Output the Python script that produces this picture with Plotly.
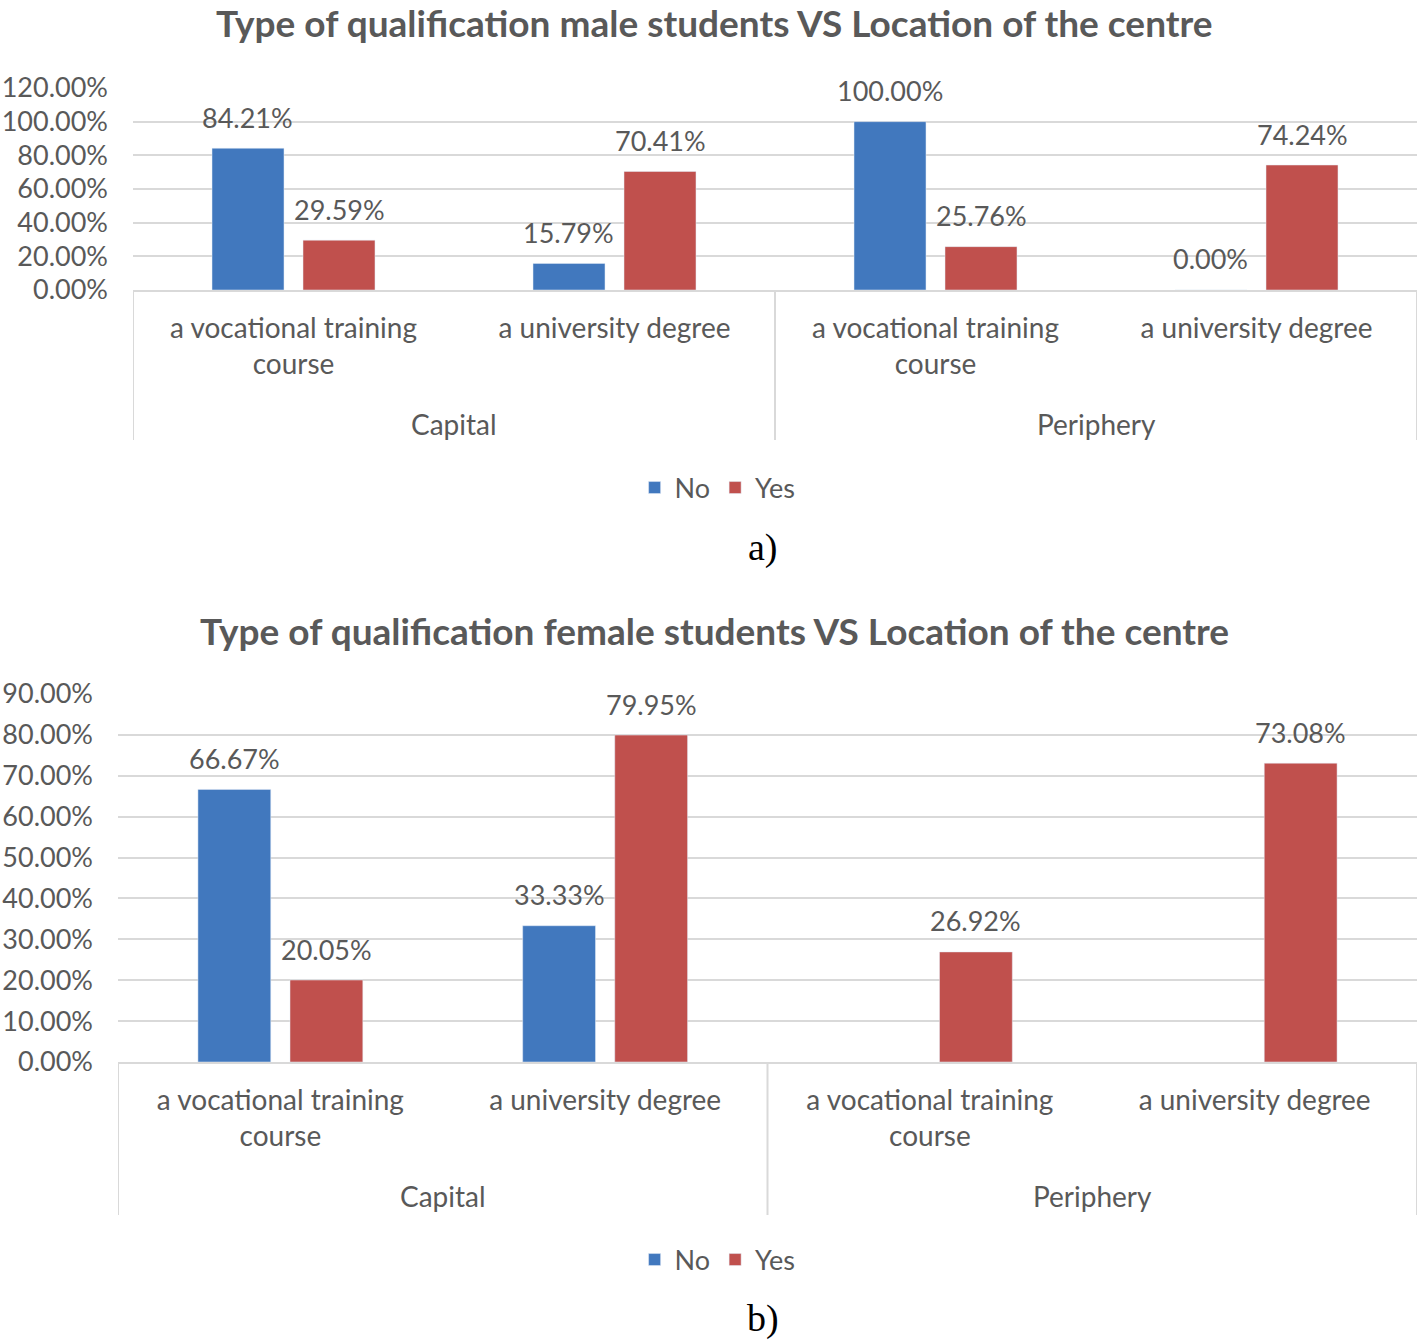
import plotly.graph_objects as go

# ---------------- data ----------------
qualifications = ["a vocational training<br>course", "a university degree"]
locations = ["Capital", "Periphery"]
series_names = ["No", "Yes"]

male_no = [0.8421, 0.1579, 1.0000, 0.0000]
male_yes = [0.2959, 0.7041, 0.2576, 0.7424]
female_no = [0.6667, 0.3333, None, None]
female_yes = [0.2005, 0.7995, 0.2692, 0.7308]

title_a = "Type of qualification male students VS Location of the centre"
title_b = "Type of qualification female students VS Location of the centre"

male_ticks = [0, 0.2, 0.4, 0.6, 0.8, 1.0, 1.2]
female_ticks = [0, 0.1, 0.2, 0.3, 0.4, 0.5, 0.6, 0.7, 0.8, 0.9]

# ---------------- style ----------------
W, H = 1421, 1342
BLUE = "#4178BE"
RED = "#C0504D"
GREY = "#595959"
GRID = "#D9D9D9"
FONT = "Lato"
NUM_SIZE = 27
CAT_SIZE = 28
TITLE_SIZE = 37


def py(pix):
    return 1 - pix / H


def px(pix):
    return pix / W


n_cat = len(qualifications) * len(locations)
xs = list(range(n_cat))
xlabels = [q for _ in locations for q in qualifications]

fig = go.Figure()

panels = [
    dict(no=male_no, yes=male_yes, xa="x", ya="y", legend="legend"),
    dict(no=female_no, yes=female_yes, xa="x2", ya="y2", legend="legend2"),
]

annotations = []
shapes = []

for p in panels:
    for name, vals, col, shift in [(series_names[0], p["no"], BLUE, -46),
                                   (series_names[1], p["yes"], RED, 46)]:
        fig.add_trace(go.Bar(
            x=xs, y=vals, name=name, marker_color=col,
            xaxis=p["xa"], yaxis=p["ya"], legend=p["legend"],
            hovertemplate="%{y:.2%}<extra>" + name + "</extra>",
        ))
        for xi, v in zip(xs, vals):
            if v is None:
                continue
            annotations.append(dict(
                x=xi, y=v, xref=p["xa"], yref=p["ya"],
                text=f"{v:.2%}", showarrow=False,
                xshift=shift, yshift=31, yanchor="middle",
                font=dict(family=FONT, size=NUM_SIZE, color=GREY),
            ))

fig.update_layout(
    width=W, height=H,
    margin=dict(l=0, r=0, t=0, b=0, autoexpand=False),
    paper_bgcolor="white", plot_bgcolor="white",
    barmode="group", bargap=0.433, bargroupgap=0.209,
    font=dict(family=FONT, color=GREY),
    showlegend=True,
)

# axes geometry (pixel)
top = dict(x0=133, x1=1417, y0=290, y1=88, ymax=1.2, ticks=male_ticks,
           div_bottom=440, grp_y=424, title=title_a, title_y=23, leg_y=488,
           lab="a)", lab_y=548)
bot = dict(x0=118, x1=1417, y0=1062, y1=694, ymax=0.9, ticks=female_ticks,
           div_bottom=1215, grp_y=1196, title=title_b, title_y=630, leg_y=1260,
           lab="b)", lab_y=1318)

for g, xa, ya, xk, yk, lg in [(top, "x", "y", "xaxis", "yaxis", "legend"),
                              (bot, "x2", "y2", "xaxis2", "yaxis2", "legend2")]:
    fig.update_layout(**{
        xk: dict(
            domain=[px(g["x0"]), px(g["x1"])], anchor=ya,
            range=[-0.5, n_cat - 0.5], tickvals=xs, ticktext=xlabels,
            showline=True, linecolor=GRID, linewidth=2,
            showgrid=False, zeroline=False, ticks="",
            ticklabelstandoff=12, automargin=False,
            tickfont=dict(family=FONT, size=CAT_SIZE, color=GREY),
        ),
        yk: dict(
            domain=[py(g["y0"]), py(g["y1"])], anchor=xa,
            range=[0, g["ymax"]], tickvals=g["ticks"], tickformat=".2%",
            showgrid=True, gridcolor=GRID, gridwidth=2,
            zeroline=False, showline=False, ticks="",
            ticklabelstandoff=24, automargin=False,
            tickfont=dict(family=FONT, size=NUM_SIZE, color=GREY),
        ),
        lg: dict(
            orientation="h", x=0.505, xanchor="center", y=py(g["leg_y"]),
            yanchor="middle", font=dict(family=FONT, size=NUM_SIZE, color=GREY),
            itemwidth=30, bgcolor="rgba(0,0,0,0)",
        ),
    })
    # group labels and dividers
    per = len(qualifications)
    for gi, loc in enumerate(locations):
        centre = (gi * per + (gi + 1) * per - 1) / 2
        annotations.append(dict(
            x=centre, y=py(g["grp_y"]), xref=xa, yref="paper",
            text=loc, showarrow=False, yanchor="middle",
            font=dict(family=FONT, size=CAT_SIZE, color=GREY),
        ))
    for bnd in range(len(locations) + 1):
        xb = bnd * per - 0.5
        shapes.append(dict(
            type="line", xref=xa, yref="paper", x0=xb, x1=xb,
            y0=py(g["div_bottom"]), y1=py(g["y0"]),
            line=dict(color=GRID, width=2),
        ))
    annotations.append(dict(
        x=0.503, y=py(g["title_y"]), xref="paper", yref="paper",
        text="<b>" + g["title"] + "</b>", showarrow=False, yanchor="middle",
        font=dict(family=FONT, size=TITLE_SIZE, color=GREY),
    ))
    annotations.append(dict(
        x=px(763), y=py(g["lab_y"]), xref="paper", yref="paper",
        text=g["lab"], showarrow=False, yanchor="middle",
        font=dict(family="Liberation Serif", size=38, color="black"),
    ))

fig.update_layout(annotations=annotations, shapes=shapes)

fig.write_html("out.html", config={"displayModeBar": False},
               post_script="document.body.style.margin='0px';")
